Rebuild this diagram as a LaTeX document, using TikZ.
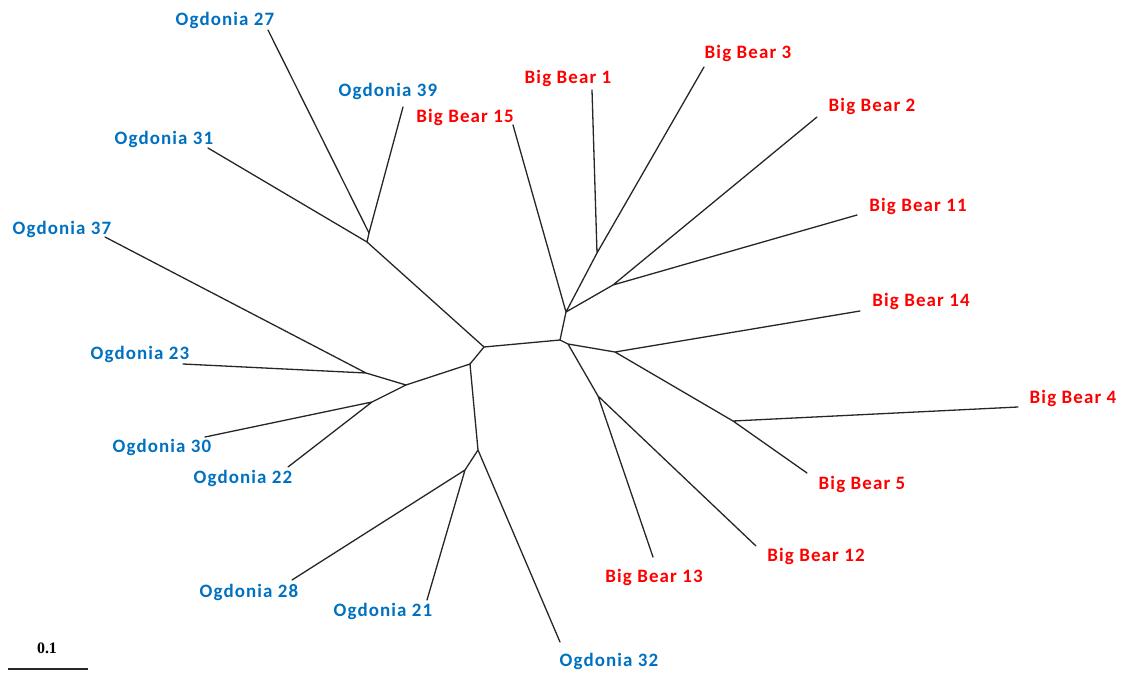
\documentclass[tikz,border=0pt]{standalone}
\usepackage{fontspec}
\setmainfont{Carlito}[LetterSpace=6]
\newfontfamily\barfont{Liberation Serif}
\definecolor{ogblue}{RGB}{0,112,192}
\definecolor{bbred}{RGB}{255,0,0}
\begin{document}
\begin{tikzpicture}[x=1bp,y=-1bp,
  br/.style={line width=1.3bp, draw=black!85, line cap=round},
  lab/.style={font=\bfseries\fontsize{19}{21}\selectfont, inner sep=0pt, anchor=center},
  og/.style={lab, text=ogblue},
  bb/.style={lab, text=bbred}]
\useasboundingbox (0,0) rectangle (1125,673);
% internal nodes
\coordinate (L) at (484,347);
\coordinate (R) at (560,340);
\coordinate (a1) at (367,242);
\coordinate (a2) at (369,233);
\coordinate (b1) at (470,364);
\coordinate (b2) at (406,385);
\coordinate (b3) at (366,373);
\coordinate (b4) at (372,402);
\coordinate (c1) at (478,450);
\coordinate (c2) at (465,470);
\coordinate (r1) at (566,312);
\coordinate (r2) at (597,253);
\coordinate (r3) at (613,285);
\coordinate (s1) at (568,344);
\coordinate (s2) at (615,352);
\coordinate (s3) at (733,421);
\coordinate (s4) at (598,396);
% leaves
\coordinate (o27) at (268,30);
\coordinate (o39) at (403,107);
\coordinate (o31) at (208,148);
\coordinate (o37) at (105,237);
\coordinate (o23) at (183,364);
\coordinate (o30) at (205,437);
\coordinate (o22) at (288,467);
\coordinate (o28) at (292,580);
\coordinate (o21) at (427,600);
\coordinate (o32) at (560,642);
\coordinate (b15) at (513,125);
\coordinate (bb1) at (592,90);
\coordinate (bb3) at (704,67);
\coordinate (bb2) at (817,117);
\coordinate (bb11) at (857,215);
\coordinate (bb14) at (860,311);
\coordinate (bb4) at (1018,407);
\coordinate (bb5) at (807,473);
\coordinate (bb12) at (756,546);
\coordinate (bb13) at (653,557);
% branches
\draw[br] (L) -- (R);
\draw[br] (L) -- (a1) (a1) -- (a2) (a2) -- (o27) (a2) -- (o39) (a1) -- (o31);
\draw[br] (L) -- (b1) (b1) -- (b2) (b2) -- (b3) (b3) -- (o37) (b3) -- (o23)
  (b2) -- (b4) (b4) -- (o30) (b4) -- (o22);
\draw[br] (b1) -- (c1) (c1) -- (o32) (c1) -- (c2) (c2) -- (o28) (c2) -- (o21);
\draw[br] (R) -- (r1) (r1) -- (b15) (r1) -- (r2) (r2) -- (bb1) (r2) -- (bb3)
  (r1) -- (r3) (r3) -- (bb2) (r3) -- (bb11);
\draw[br] (R) -- (s1) (s1) -- (s2) (s2) -- (bb14) (s2) -- (s3) (s3) -- (bb4) (s3) -- (bb5)
  (s1) -- (s4) (s4) -- (bb12) (s4) -- (bb13);
% labels
\node[og] (t27) at (225,20) {Ogdonia 27};
\node[og] (t39) at (388,91) {Ogdonia 39};
\node[og] (t31) at (164,139) {Ogdonia 31};
\node[og] (t37) at (62,229) {Ogdonia 37};
\node[og] (t23) at (140,354) {Ogdonia 23};
\node[og] (t30) at (162,447) {Ogdonia 30};
\node[og] (t22) at (243,478) {Ogdonia 22};
\node[og] (t28) at (249,592) {Ogdonia 28};
\node[og] (t21) at (383,611) {Ogdonia 21};
\node[og] (t32) at (609,661) {Ogdonia 32};
\node[bb] (u15) at (465,117) {Big Bear 15};
\node[bb] (u1) at (568,78) {Big Bear 1};
\node[bb] (u3) at (748,53) {Big Bear 3};
\node[bb] (u2) at (872,106) {Big Bear 2};
\node[bb] (u11) at (918,206) {Big Bear 11};
\node[bb] (u14) at (921,301) {Big Bear 14};
\node[bb] (u4) at (1073,398) {Big Bear 4};
\node[bb] (u5) at (862,484) {Big Bear 5};
\node[bb] (u12) at (816,556) {Big Bear 12};
\node[bb] (u13) at (654,577) {Big Bear 13};
% scale bar
\coordinate (sb1) at (8,669);
\coordinate (sb2) at (88,669);
\draw[line width=1.6bp, draw=black!85] (sb1) -- (sb2);
\node[inner sep=0pt, font=\barfont\bfseries\fontsize{16}{17}\selectfont] (sbl) at (47,648) {0.1};
\end{tikzpicture}
\end{document}
